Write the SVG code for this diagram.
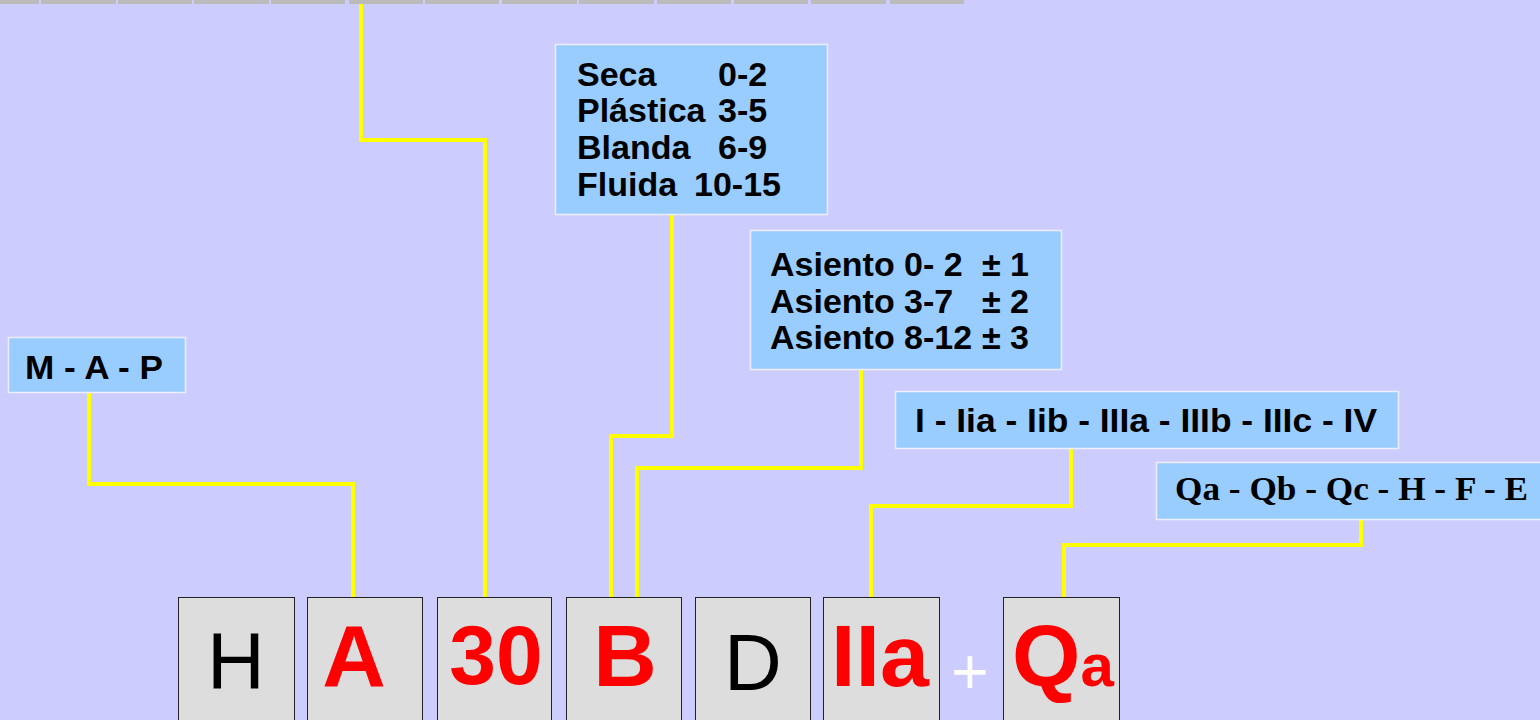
<svg xmlns="http://www.w3.org/2000/svg" width="1540" height="720" viewBox="0 0 1540 720">
<style>
.lbl{fill:#99ccff;stroke:#eeeeff;stroke-width:1.5}
.t{font-family:"Liberation Sans",Arial,sans-serif;font-weight:bold;font-size:34px;fill:#000}
.ts{font-family:"Liberation Serif","Times New Roman",serif;font-weight:bold;font-size:34px;fill:#000}
.cell{fill:#dddddd;stroke:#222;stroke-width:1}
.big{font-family:"Liberation Sans",Arial,sans-serif;font-weight:bold;font-size:88px;fill:#ff0000;text-anchor:middle}
.norm{font-family:"Liberation Sans",Arial,sans-serif;font-size:80px;fill:#000;text-anchor:middle}
.conn{fill:none;stroke:#ffff00;stroke-width:4}
.seg{fill:#bbbbbb}
</style>
<rect width="1540" height="720" fill="#ccccff"/>
<g id="topbar">
<rect class="seg" x="0" y="0" width="39" height="4"/>
<rect class="seg" x="41" y="0" width="75" height="4"/>
<rect class="seg" x="118" y="0" width="74" height="4"/>
<rect class="seg" x="194" y="0" width="75" height="4"/>
<rect class="seg" x="271" y="0" width="74" height="4"/>
<rect class="seg" x="349" y="0" width="74" height="4"/>
<rect class="seg" x="425" y="0" width="74" height="4"/>
<rect class="seg" x="502" y="0" width="75" height="4"/>
<rect class="seg" x="579" y="0" width="75" height="4"/>
<rect class="seg" x="657" y="0" width="74" height="4"/>
<rect class="seg" x="734" y="0" width="74" height="4"/>
<rect class="seg" x="811" y="0" width="75" height="4"/>
<rect class="seg" x="890" y="0" width="74" height="4"/>
</g>
<g id="connectors">
<polyline class="conn" points="89,392 89,484 353,484 353,598"/>
<polyline class="conn" points="361,4 361,140 485,140 485,598"/>
<polyline class="conn" points="672,214 672,436 611,436 611,598"/>
<polyline class="conn" points="861,369 861,468 637,468 637,598"/>
<polyline class="conn" points="1071,448 1071,506 871,506 871,598"/>
<polyline class="conn" points="1361,519 1361,545 1064,545 1064,598"/>
</g>
<g id="map">
<rect class="lbl" x="8.5" y="337.5" width="177" height="55"/>
<text class="t" x="25" y="379" textLength="138" lengthAdjust="spacingAndGlyphs">M - A - P</text>
</g>
<g id="consistencia">
<rect class="lbl" x="555.5" y="44.5" width="272" height="170"/>
<text class="t" x="577" y="86">Seca<tspan x="718">0-2</tspan></text>
<text class="t" x="577" y="122">Plástica<tspan x="718">3-5</tspan></text>
<text class="t" x="577" y="159">Blanda<tspan x="718">6-9</tspan></text>
<text class="t" x="577" y="196">Fluida<tspan x="694">10-15</tspan></text>
</g>
<g id="asiento">
<rect class="lbl" x="750.5" y="230.5" width="311" height="139"/>
<text class="t" x="770" y="276">Asiento 0- 2<tspan x="982">± 1</tspan></text>
<text class="t" x="770" y="313">Asiento 3-7<tspan x="982">± 2</tspan></text>
<text class="t" x="770" y="349">Asiento 8-12<tspan x="982">± 3</tspan></text>
</g>
<g id="ambiente">
<rect class="lbl" x="895.5" y="391.5" width="503" height="57"/>
<text class="t" x="915" y="432" textLength="462" lengthAdjust="spacingAndGlyphs">I - Iia - Iib - IIIa - IIIb - IIIc - IV</text>
</g>
<g id="especifico">
<rect class="lbl" x="1156.5" y="462.5" width="390" height="57"/>
<text class="ts" x="1175" y="500" textLength="353" lengthAdjust="spacingAndGlyphs">Qa - Qb - Qc - H - F - E</text>
</g>
<g id="cell-H">
<rect class="cell" x="178.5" y="597.5" width="116" height="130"/>
<text class="norm" x="236" y="688">H</text>
</g>
<g id="cell-A">
<rect class="cell" x="307.5" y="597.5" width="115" height="130"/>
<text class="big" x="354" y="686">A</text>
</g>
<g id="cell-30">
<rect class="cell" x="437.5" y="597.5" width="114" height="130"/>
<text class="big" x="496" y="684" style="font-size:84px">30</text>
</g>
<g id="cell-B">
<rect class="cell" x="566.5" y="597.5" width="115" height="130"/>
<text class="big" x="625" y="686">B</text>
</g>
<g id="cell-D">
<rect class="cell" x="695.5" y="597.5" width="115" height="130"/>
<text class="norm" x="753" y="690">D</text>
</g>
<g id="cell-IIa">
<rect class="cell" x="823.5" y="597.5" width="116" height="130"/>
<text class="big" x="880" y="686">IIa</text>
</g>
<g id="plus">
<text x="970" y="694" font-family="Liberation Sans, Arial, sans-serif" font-size="64" fill="#ffffff" text-anchor="middle">+</text>
</g>
<g id="cell-Qa">
<rect class="cell" x="1003.5" y="597.5" width="116" height="130"/>
<text x="1012" y="686" font-family="Liberation Sans, Arial, sans-serif" font-weight="bold" font-size="88" fill="#ff0000">Q<tspan font-size="60">a</tspan></text>
</g>
</svg>
